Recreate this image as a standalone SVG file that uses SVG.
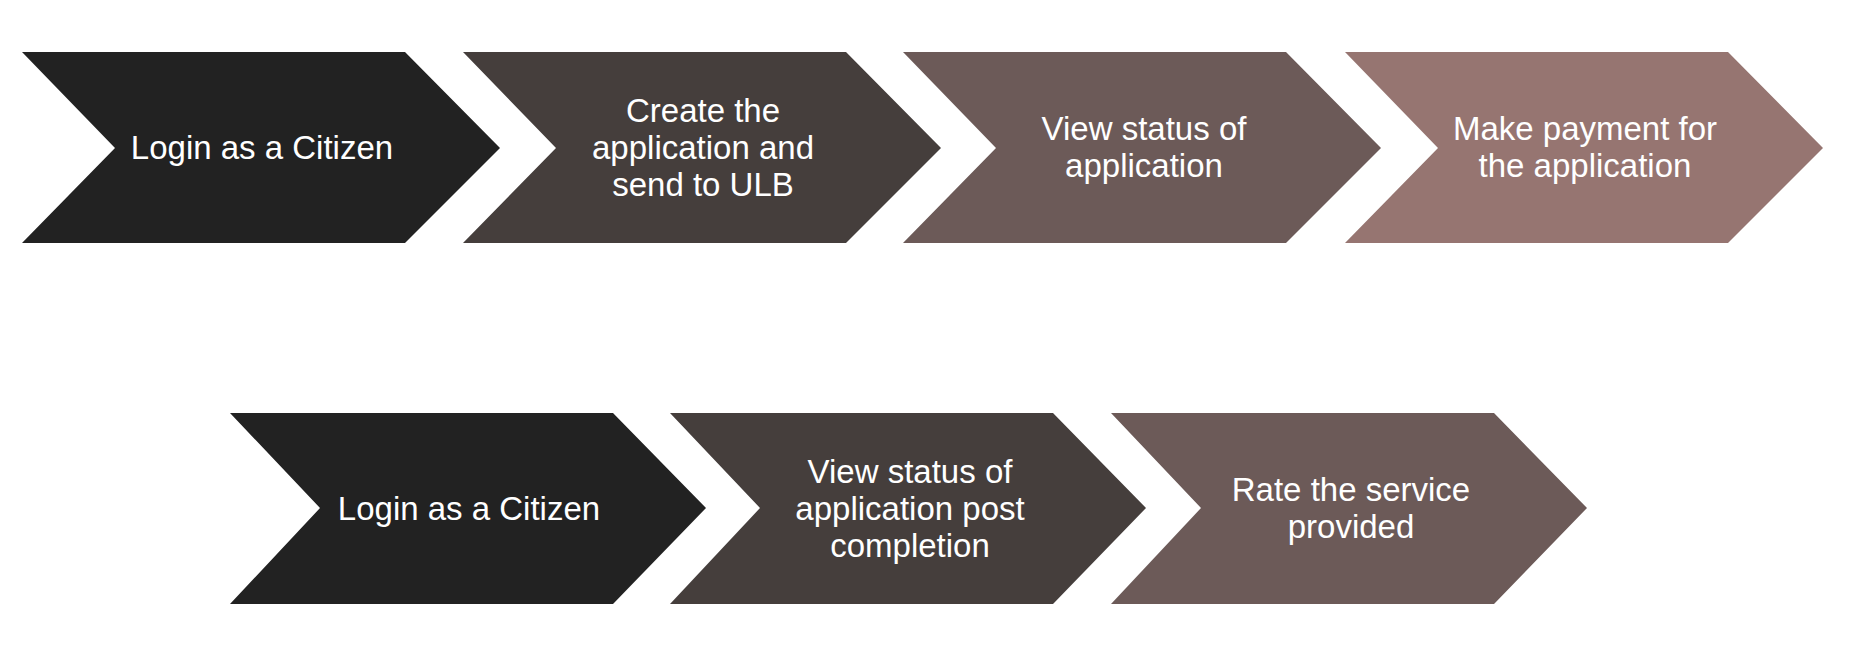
<svg xmlns="http://www.w3.org/2000/svg" width="1856" height="664" viewBox="0 0 1856 664">
<defs>
<style>
.t{font-family:"Liberation Sans",Arial,sans-serif;font-size:33px;fill:#ffffff;text-anchor:middle}
.c1{fill:#222222}.c2{fill:#453e3c}.c3{fill:#6c5a58}.c4{fill:#967571}
</style>
<polygon id="chevTop" points="0,52 383,52 478,148 383,243 0,243 93,148"/>
<polygon id="chevBot" points="0,413 383,413 476,508 383,604 0,604 90,508"/>
</defs>
<rect width="1856" height="664" fill="#ffffff"/>
<g id="connectors"></g>
<g id="n1"><use href="#chevTop" x="22" class="c1"/><text class="t" x="262" y="159">Login as a Citizen</text></g>
<g id="n2"><use href="#chevTop" x="463" class="c2"/><text class="t" x="703"><tspan x="703" y="122">Create the</tspan><tspan x="703" y="159">application and</tspan><tspan x="703" y="196">send to ULB</tspan></text></g>
<g id="n3"><use href="#chevTop" x="903" class="c3"/><text class="t"><tspan x="1144" y="140">View status of</tspan><tspan x="1144" y="177">application</tspan></text></g>
<g id="n4"><use href="#chevTop" x="1345" class="c4"/><text class="t"><tspan x="1585" y="140">Make payment for</tspan><tspan x="1585" y="177">the application</tspan></text></g>
<g id="n5"><use href="#chevBot" x="230" class="c1"/><text class="t" x="469" y="520">Login as a Citizen</text></g>
<g id="n6"><use href="#chevBot" x="670" class="c2"/><text class="t"><tspan x="910" y="483">View status of</tspan><tspan x="910" y="520">application post</tspan><tspan x="910" y="557">completion</tspan></text></g>
<g id="n7"><use href="#chevBot" x="1111" class="c3"/><text class="t"><tspan x="1351" y="501">Rate the service</tspan><tspan x="1351" y="538">provided</tspan></text></g>
</svg>
